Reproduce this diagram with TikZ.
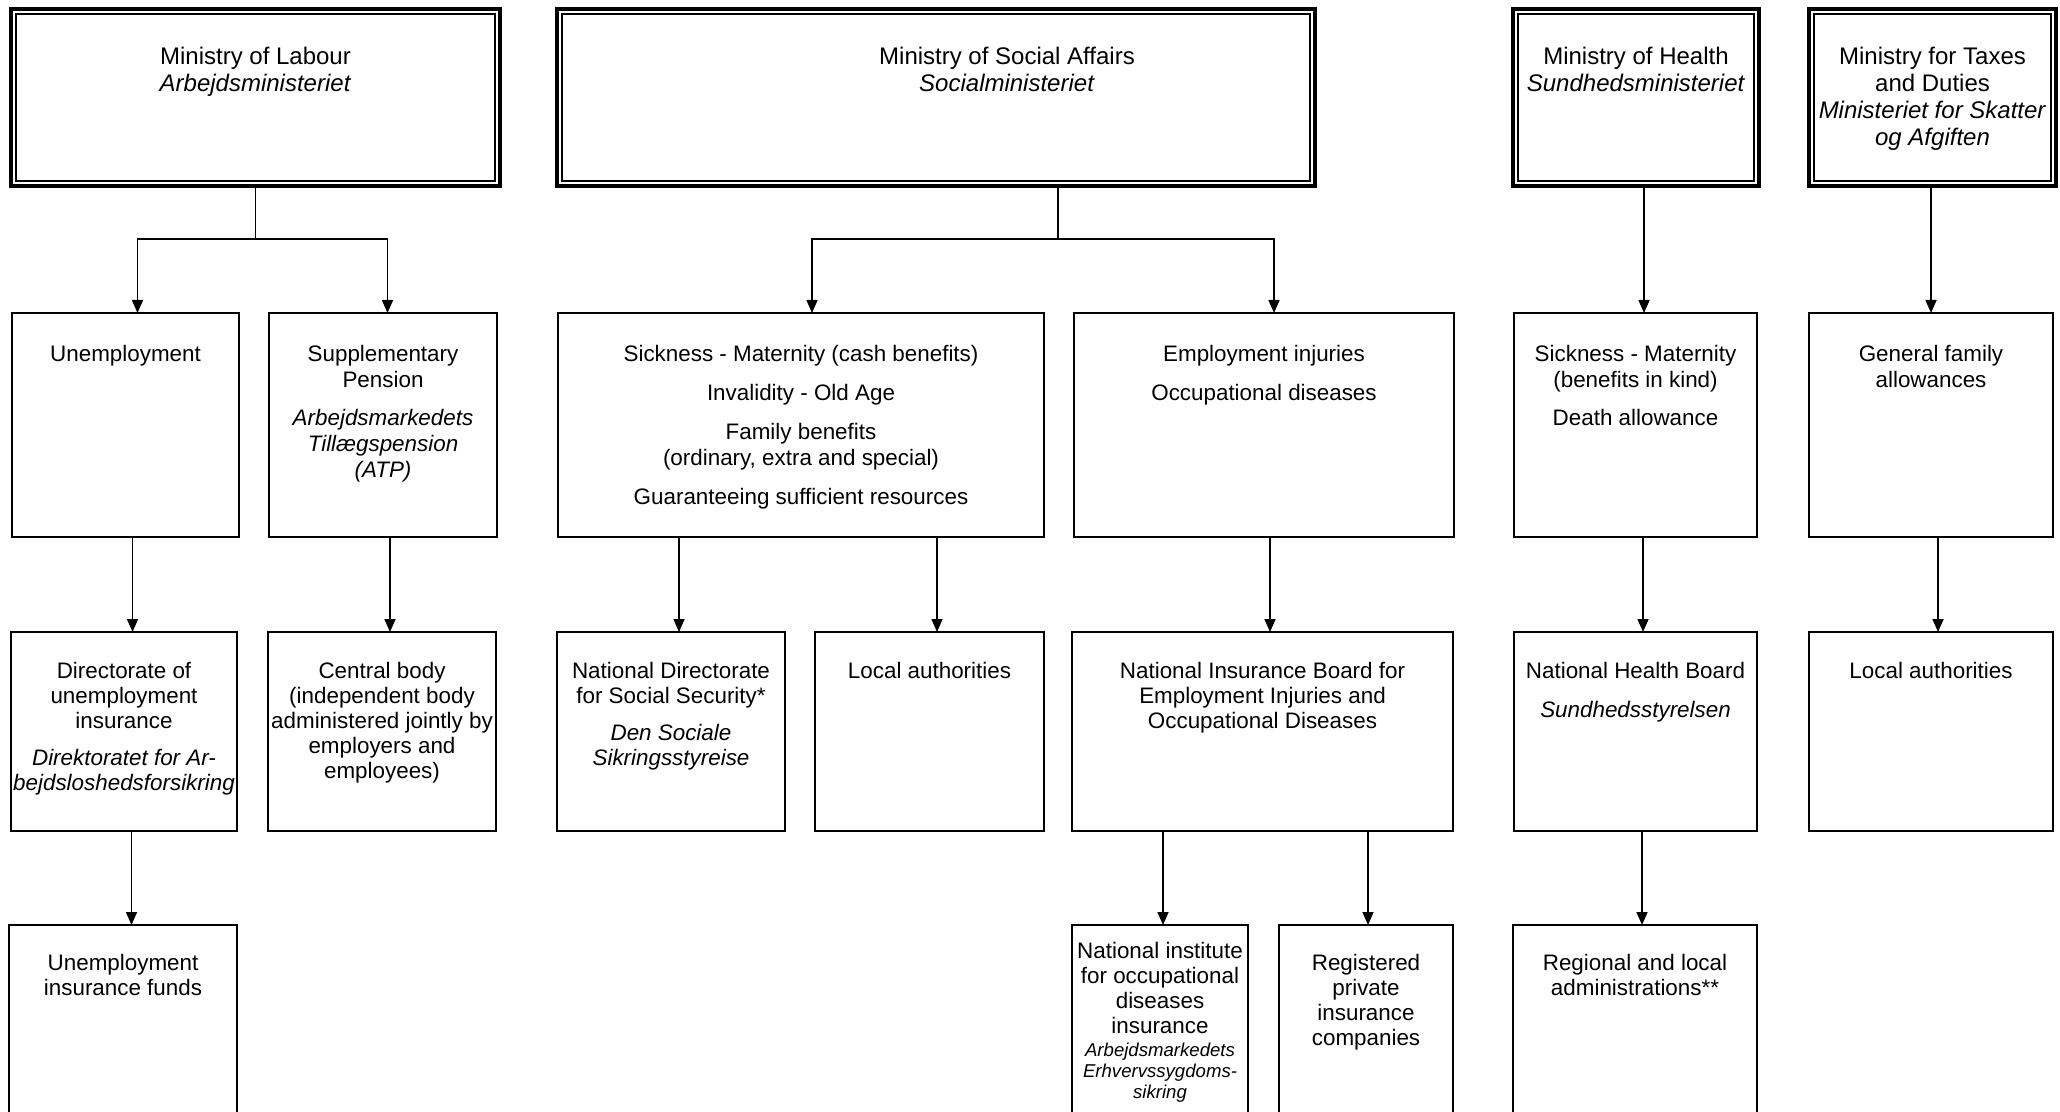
\documentclass[tikz,border=0pt]{standalone}
\usepackage{fontspec}
\setmainfont{Liberation Sans}
\usetikzlibrary{arrows.meta}
\newcommand\bx[4]{\begin{minipage}[c][\dimexpr #2pt/2\relax][t]{\dimexpr #1pt/2\relax}\centering\vspace*{\dimexpr #3pt/2\relax}#4\par\vfill\end{minipage}}
\newcommand\fmin{\fontsize{12}{13.5}\selectfont}
\newcommand\frow{\fontsize{11.2}{13}\selectfont}
\newcommand\frowc{\fontsize{11.2}{12.5}\selectfont}
\newcommand\fsmall{\fontsize{9.3}{10.5}\selectfont}
\begin{document}
\begin{tikzpicture}[x=0.5pt,y=-0.5pt,
  box/.style={draw,line width=1.1pt,inner sep=0pt,outer sep=0pt,anchor=north west},
  mini/.style={draw,line width=2pt,inner sep=0pt,outer sep=0pt,anchor=north west},
  arr/.style={line width=0.8pt,-{Triangle[width=5.5pt,length=6.5pt]}},
  innerframe/.style={line width=0.6pt}]
\useasboundingbox (0,0) rectangle (2060,1112);
\fill[white] (0,0) rectangle (2060,1112);
\clip (0,0) rectangle (2060,1112);
% ministries
\node[mini] (lab) at (11,9) {\bx{489}{177}{38}{\fmin Ministry of Labour\\\textit{Arbejdsministeriet}}};
\node[mini] (soc) at (557,9) {\bx{758}{177}{38}{\fmin\hspace*{71pt}Ministry of Social Affairs\\\hspace*{71pt}\textit{Socialministeriet}}};
\node[mini] (hl) at (1513,9) {\bx{246}{177}{38}{\fmin Ministry of Health\\\textit{Sundhedsministeriet}}};
\node[mini] (tx) at (1809,9) {\bx{247}{177}{38}{\fmin Ministry for Taxes\\and Duties\\\textit{Ministeriet for Skatter}\\\textit{og Afgiften}}};
\foreach \m in {lab,soc,hl,tx}
  \draw[innerframe] ([shift={(5,5)}]\m.north west) rectangle ([shift={(-5,-5)}]\m.south east);
% row 2
\node[box] (un) at (12,313) {\bx{227}{224}{32}{\frow Unemployment}};
\node[box] (sp) at (269,313) {\bx{228}{224}{32}{\frow Supplementary\\Pension\\[6pt]\textit{Arbejdsmarkedets}\\\textit{Tillægspension}\\\textit{(ATP)}}};
\node[box] (sc) at (558,313) {\bx{486}{224}{32}{\frow Sickness - Maternity (cash benefits)\\[6.5pt]Invalidity - Old Age\\[6.5pt]Family benefits\\(ordinary, extra and special)\\[6.5pt]Guaranteeing sufficient resources}};
\node[box] (ei) at (1074,313) {\bx{380}{224}{32}{\frow Employment injuries\\[6.5pt]Occupational diseases}};
\node[box] (sk) at (1514,313) {\bx{243}{224}{32}{\frow Sickness - Maternity\\(benefits in kind)\\[6pt]Death allowance}};
\node[box] (gf) at (1809,313) {\bx{244}{224}{32}{\frow General family\\allowances}};
% row 3
\node[box] (dir) at (11,632) {\bx{226}{199}{30}{\frowc Directorate of\\unemployment\\insurance\\[6pt]\textit{Direktoratet for Ar-}\\\textit{bejdsloshedsforsikring}}};
\node[box] (cb) at (268,632) {\bx{228}{199}{30}{\frowc Central body\\(independent body\\administered jointly by\\employers and\\employees)}};
\node[box] (nd) at (557,632) {\bx{228}{199}{30}{\frowc National Directorate\\for Social Security*\\[6pt]\textit{Den Sociale}\\\textit{Sikringsstyreise}}};
\node[box] (la) at (815,632) {\bx{229}{199}{30}{\frowc Local authorities}};
\node[box] (nib) at (1072,632) {\bx{381}{199}{30}{\frowc National Insurance Board for\\Employment Injuries and\\Occupational Diseases}};
\node[box] (nhb) at (1514,632) {\bx{243}{199}{30}{\frowc National Health Board\\[7pt]\textit{Sundhedsstyrelsen}}};
\node[box] (la2) at (1809,632) {\bx{244}{199}{30}{\frowc Local authorities}};
% row 4
\node[box] (fu) at (9,925) {\bx{228}{230}{29}{\frowc Unemployment\\insurance funds}};
\node[box] (ni) at (1072,925) {\bx{176}{230}{17}{\frowc National institute\\for occupational\\diseases\\insurance\par\vspace{1pt}{\fsmall\itshape Arbejdsmarkedets\\Erhvervssygdoms-\\sikring\par}}};
\node[box] (rp) at (1279,925) {\bx{174}{230}{29}{\frowc Registered\\private\\insurance\\companies}};
\node[box] (rl) at (1513,925) {\bx{244}{230}{29}{\frowc Regional and local\\administrations**}};
% connectors from ministries
\coordinate (labL) at (137.5,239);
\coordinate (labR) at (387.5,239);
\draw[arr] (lab.south) |- (labL) -- (labL |- un.north);
\draw[arr] (lab.south) |- (labR) -- (labR |- sp.north);
\coordinate (socJ) at (1058,239);
\coordinate (socL) at (812,239);
\coordinate (socR) at (1274,239);
\draw[arr] (soc.south -| socJ) |- (socL) -- (socL |- sc.north);
\draw[arr] (soc.south -| socJ) |- (socR) -- (socR |- ei.north);
\draw[arr] ([xshift=4pt]hl.south) -- ([xshift=4pt]hl.south |- sk.north);
\draw[arr] ([xshift=-0.75pt]tx.south) -- ([xshift=-0.75pt]tx.south |- gf.north);
% row 2 -> row 3
\draw[arr] ([xshift=3.5pt]un.south) -- ([xshift=3.5pt]un.south |- dir.north);
\draw[arr] ([xshift=3.5pt]sp.south) -- ([xshift=3.5pt]sp.south |- cb.north);
\draw[arr] ([xshift=-61pt]sc.south) -- ([xshift=-61pt]sc.south |- nd.north);
\draw[arr] ([xshift=68pt]sc.south) -- ([xshift=68pt]sc.south |- la.north);
\draw[arr] ([xshift=3pt]ei.south) -- ([xshift=3pt]ei.south |- nib.north);
\draw[arr] ([xshift=3.75pt]sk.south) -- ([xshift=3.75pt]sk.south |- nhb.north);
\draw[arr] ([xshift=3.5pt]gf.south) -- ([xshift=3.5pt]gf.south |- la2.north);
% row 3 -> row 4
\draw[arr] ([xshift=3.75pt]dir.south) -- ([xshift=3.75pt]dir.south |- fu.north);
\draw[arr] ([xshift=-49.75pt]nib.south) -- ([xshift=-49.75pt]nib.south |- ni.north);
\draw[arr] ([xshift=52.75pt]nib.south) -- ([xshift=52.75pt]nib.south |- rp.north);
\draw[arr] ([xshift=3.25pt]nhb.south) -- ([xshift=3.25pt]nhb.south |- rl.north);
\end{tikzpicture}
\end{document}
